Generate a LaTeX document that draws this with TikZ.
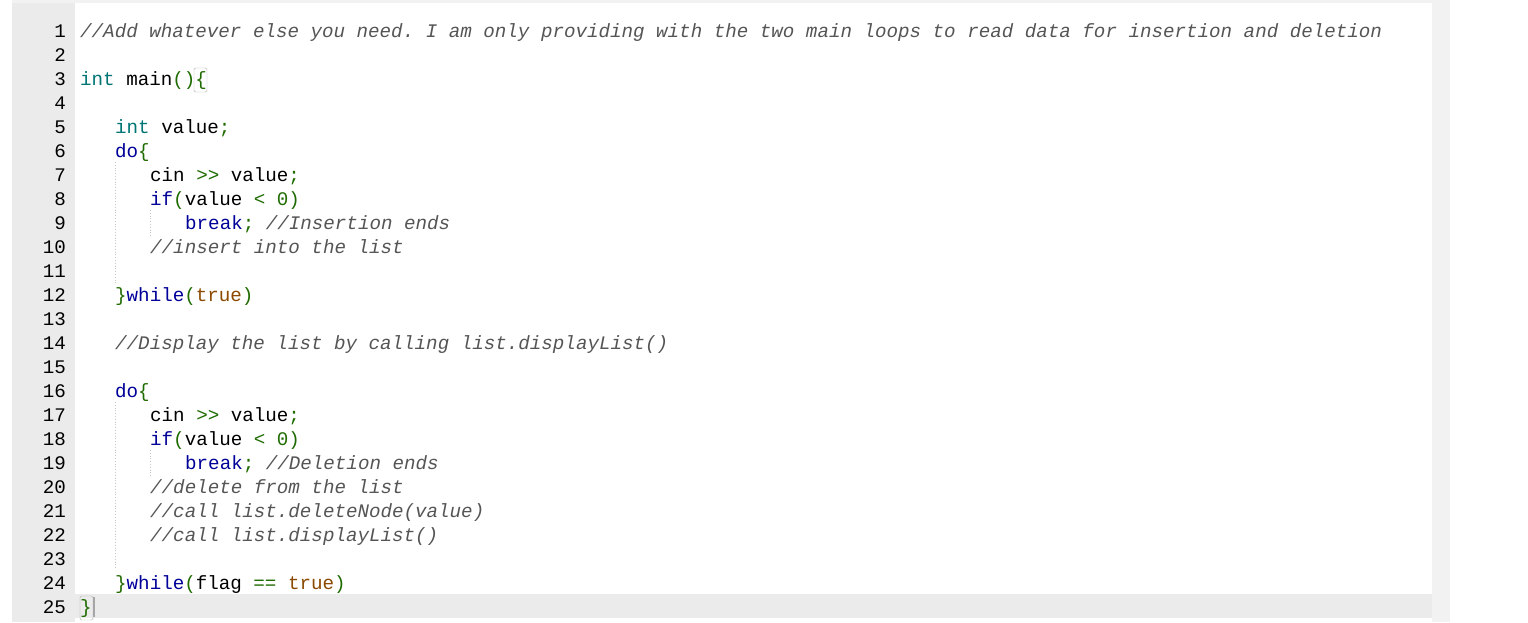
\documentclass[tikz,border=0pt]{standalone}
\usepackage{fontspec}
\setmonofont{Liberation Mono}
\definecolor{gut}{HTML}{EBEBEB}
\definecolor{frm}{HTML}{F2F2F2}
\definecolor{kw}{HTML}{000099}
\definecolor{ty}{HTML}{007575}
\definecolor{br}{HTML}{1E6B00}
\definecolor{cm}{HTML}{555555}
\definecolor{tr}{HTML}{8B4A00}
\newcommand{\K}[1]{\textcolor{kw}{#1}}
\newcommand{\T}[1]{\textcolor{ty}{#1}}
\newcommand{\B}[1]{\textcolor{br}{#1}}
\newcommand{\C}[1]{\textcolor{cm}{\itshape #1}}
\newcommand{\R}[1]{\textcolor{tr}{#1}}
\begin{document}
\begin{tikzpicture}[x=1pt,y=-1pt,
  code/.style={anchor=base west,inner sep=0pt,font=\fontsize{19.2}{24}\ttfamily},
  num/.style={anchor=base east,inner sep=0pt,font=\fontsize{19.2}{24}\ttfamily},
  guide/.style={draw=gray!45,dotted,line width=0.8pt}]
\useasboundingbox (0,0) rectangle (1528,622);
\fill[white] (0,0) rectangle (1528,622);
\fill[frm] (12,0) rectangle (1450,622);
\fill[white] (75,3) rectangle (1432,622);
\fill[gut] (12,3) rectangle (75,622);
\fill[gut] (75,594) rectangle (1432,618);
\foreach \n in {1,...,25} {\node[num] (n\n) at (66,13+24*\n) {\n};}
\node[code] (l1) at (80,37) {\C{//Add whatever else you need. I am only providing with the two main loops to read data for insertion and deletion}};
\node[code] (l3) at (80,85) {\T{int} main\B{()}\B{\{}};
\node[code] (l5) at (115,133) {\T{int} value\B{;}};
\node[code] (l6) at (115,157) {\K{do}\B{\{}};
\node[code] (l7) at (150,181) {cin \B{>>} value\B{;}};
\node[code] (l8) at (150,205) {\K{if}\B{(}value \B{<} \B{0}\B{)}};
\node[code] (l9) at (185,229) {\K{break}\B{;} \C{//Insertion ends}};
\node[code] (l10) at (150,253) {\C{//insert into the list}};
\node[code] (l12) at (115,301) {\B{\}}\K{while}\B{(}\R{true}\B{)}};
\node[code] (l14) at (115,349) {\C{//Display the list by calling list.displayList()}};
\node[code] (l16) at (115,397) {\K{do}\B{\{}};
\node[code] (l17) at (150,421) {cin \B{>>} value\B{;}};
\node[code] (l18) at (150,445) {\K{if}\B{(}value \B{<} \B{0}\B{)}};
\node[code] (l19) at (185,469) {\K{break}\B{;} \C{//Deletion ends}};
\node[code] (l20) at (150,493) {\C{//delete from the list}};
\node[code] (l21) at (150,517) {\C{//call list.deleteNode(value)}};
\node[code] (l22) at (150,541) {\C{//call list.displayList()}};
\node[code] (l24) at (115,589) {\B{\}}\K{while}\B{(}flag \B{==} \R{true}\B{)}};
\node[code] (l25) at (80,613) {\B{\}}};
% bracket match boxes
\draw[gray!60,rounded corners=1.5pt] (194,68) rectangle (207,92);
\draw[gray!60,rounded corners=1.5pt] (80,596) rectangle (93,620);
\fill[gray!70] (93,597) rectangle (95,617);
% indent guides
\draw[guide] (115,162) -- (115,284);
\draw[guide] (150,210) -- (150,236);
\draw[guide] (115,402) -- (115,570);
\draw[guide] (150,450) -- (150,476);
\end{tikzpicture}
\end{document}
